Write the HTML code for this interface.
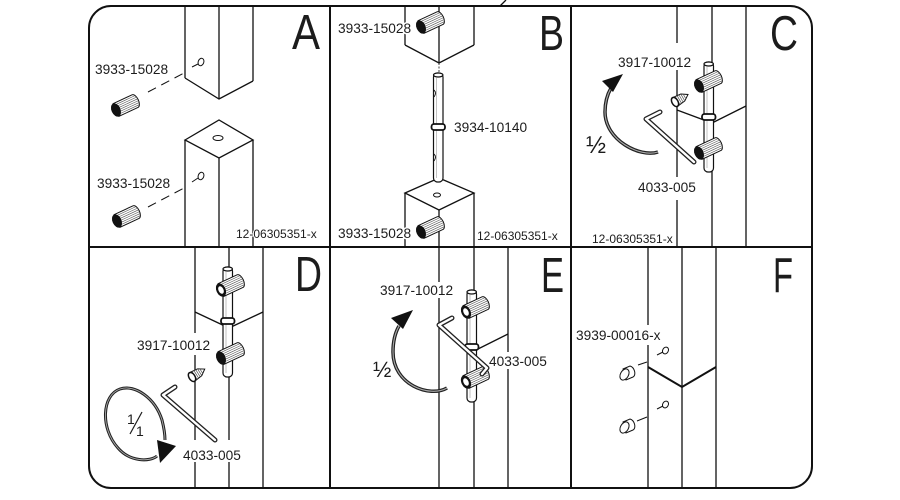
<!DOCTYPE html>
<html><head><meta charset="utf-8"><style>
html,body{margin:0;padding:0;background:#fff;width:900px;height:500px;overflow:hidden}
svg{display:block}
text{font-family:"Liberation Sans",sans-serif;fill:#1c1c1c}
.lbl{font-size:13.7px;stroke:#fff;stroke-width:3px;paint-order:stroke;stroke-linejoin:round}
.code{font-size:12px;stroke:#fff;stroke-width:2px;paint-order:stroke}
.big{font-size:49px}
</style></head><body>
<svg width="900" height="500" viewBox="0 0 900 500" xmlns="http://www.w3.org/2000/svg">
<defs>
 <g id="dw">
  <path d="M0,-7 L21,-7 A3.5,7 0 0 1 21,7 L0,7 Z" fill="#fff" stroke="#111" stroke-width="1"/>
  <path d="M3,-5 H23 M3,-3 H24 M3,-1 H24 M3,1 H24 M3,3 H24 M3,5 H23" stroke="#555" stroke-width="0.6" fill="none"/>
  <ellipse rx="4.5" ry="7" fill="#111"/>
 </g>
 <g id="dwh">
  <path d="M0,-7 L21,-7 A3.5,7 0 0 1 21,7 L0,7 Z" fill="#fff" stroke="#111" stroke-width="1"/>
  <path d="M3,-5 H23 M3,-3 H24 M3,-1 H24 M3,1 H24 M3,3 H24 M3,5 H23" stroke="#555" stroke-width="0.6" fill="none"/>
  <ellipse rx="4.6" ry="7" fill="#111"/>
  <ellipse rx="2.5" ry="4" fill="#fff"/>
 </g>
 <g id="ss">
  <path d="M0,-5 L9,-4 L15,0 L9,4 L0,5 Z" fill="#fff" stroke="#111" stroke-width="1"/>
  <path d="M3,-4.6 V4.6 M5,-4.4 V4.4 M7,-4.2 V4.2 M9,-4 V4 M11,-2.8 V2.8" stroke="#555" stroke-width="0.7" fill="none"/>
  <ellipse rx="3" ry="5" fill="#fff" stroke="#111" stroke-width="1.5"/>
 </g>
</defs>

<!-- frame -->
<rect x="89" y="6" width="723" height="482" rx="22" fill="none" stroke="#111" stroke-width="2"/>
<g stroke="#111" stroke-width="2">
 <line x1="330" y1="6" x2="330" y2="488"/>
 <line x1="571" y1="6" x2="571" y2="488"/>
 <line x1="89" y1="247" x2="812" y2="247"/>
 <line x1="500" y1="6" x2="506" y2="0" stroke-width="1.3"/>
</g>

<!-- ===== Panel A ===== -->
<g stroke="#111" stroke-width="1.3" fill="none">
 <line x1="185" y1="6" x2="185" y2="78"/>
 <line x1="219" y1="6" x2="219" y2="99"/>
 <line x1="253" y1="6" x2="253" y2="81"/>
 <polyline points="185,78 219,99 253,81"/>
 <polygon points="185,140 219,120 253,140 219,158"/>
 <line x1="185" y1="140" x2="185" y2="247"/>
 <line x1="253" y1="140" x2="253" y2="247"/>
 <line x1="219" y1="158" x2="219" y2="247"/>
 <ellipse cx="218" cy="138" rx="5" ry="2.5" stroke-width="1"/>
 <ellipse cx="201" cy="62" rx="2.8" ry="3.8" transform="rotate(20 201 62)" stroke-width="1"/>
 <line x1="192" y1="67" x2="198" y2="64" stroke-width="1"/>
 <line x1="148" y1="92" x2="184" y2="73" stroke-width="1" stroke-dasharray="9 6"/>
 <ellipse cx="201" cy="176" rx="2.8" ry="3.8" transform="rotate(20 201 176)" stroke-width="1"/>
 <line x1="192" y1="182" x2="198" y2="178" stroke-width="1"/>
 <line x1="148" y1="207" x2="184" y2="188" stroke-width="1" stroke-dasharray="9 6"/>
</g>
<use href="#dw" transform="translate(116,110) rotate(-25)"/>
<use href="#dw" transform="translate(117,221) rotate(-25)"/>
<text class="lbl" x="95" y="74">3933-15028</text>
<text class="lbl" x="97" y="188">3933-15028</text>
<text class="code" x="236" y="238">12-06305351-x</text>
<text class="big" x="292" y="49" textLength="28" lengthAdjust="spacingAndGlyphs">A</text>

<!-- ===== Panel B ===== -->
<g stroke="#111" stroke-width="1.3" fill="none">
 <line x1="405" y1="6" x2="405" y2="45"/>
 <line x1="439" y1="6" x2="439" y2="63"/>
 <line x1="474" y1="6" x2="474" y2="45"/>
 <polyline points="405,45 439,63 474,45"/>
 <line x1="439" y1="63" x2="439" y2="73" stroke-width="0.8" stroke-dasharray="2 1.5"/>
 <polygon points="405,193 439,178 474,193 439,210"/>
 <line x1="405" y1="193" x2="405" y2="247"/>
 <line x1="474" y1="193" x2="474" y2="247"/>
 <line x1="439" y1="210" x2="439" y2="247"/>
 <ellipse cx="437" cy="195" rx="3.5" ry="2" stroke-width="1"/>
</g>
<g stroke="#111" stroke-width="1.2">
 <rect x="433.5" y="73" width="9.5" height="109" rx="4" fill="#fff"/>
 <ellipse cx="438.2" cy="75" rx="4.7" ry="2" fill="#fff"/>
 <line x1="436.5" y1="78" x2="436.5" y2="178" stroke="#999" stroke-width="0.6"/>
 <path d="M434,90 q3,3 0,7 M434,154 q3,3 0,7" fill="none" stroke-width="0.9"/>
 <rect x="431.5" y="124" width="13.5" height="6" rx="2.5" fill="#fff" stroke-width="1.8"/>
</g>
<use href="#dw" transform="translate(421,27) rotate(-25)"/>
<use href="#dw" transform="translate(421,232) rotate(-25)"/>
<text class="lbl" x="338" y="33">3933-15028</text>
<text class="lbl" x="454" y="132">3934-10140</text>
<text class="lbl" x="338" y="238">3933-15028</text>
<text class="code" x="477" y="240">12-06305351-x</text>
<text class="big" x="539" y="50" textLength="25" lengthAdjust="spacingAndGlyphs">B</text>

<!-- ===== Panel C ===== -->
<g stroke="#111" stroke-width="1.3" fill="none">
 <line x1="677" y1="6" x2="677" y2="43"/>
 <line x1="677" y1="70" x2="677" y2="177"/>
 <line x1="677" y1="200" x2="677" y2="247"/>
 <line x1="712" y1="6" x2="712" y2="247"/>
 <line x1="746" y1="6" x2="746" y2="247"/>
 <polyline points="677,110 712,123 746,106"/>
</g>
<g stroke="#111" stroke-width="1.2">
 <rect x="704" y="62" width="9.5" height="110" rx="4" fill="#fff"/>
 <ellipse cx="708.7" cy="64" rx="4.7" ry="2" fill="#fff"/>
 <line x1="707" y1="67" x2="707" y2="168" stroke="#999" stroke-width="0.6"/>
 <rect x="702" y="114" width="13.5" height="6" rx="2.5" fill="#fff" stroke-width="1.8"/>
</g>
<use href="#dw" transform="translate(699,86) rotate(-25)"/>
<use href="#dw" transform="translate(699,153) rotate(-25)"/>
<use href="#ss" transform="translate(675,102) rotate(-30)"/>
<path d="M660,112 L646,119 L694,162" fill="none" stroke="#222" stroke-width="5" stroke-linecap="round" stroke-linejoin="round"/>
<path d="M660,112 L646,119 L694,162" fill="none" stroke="#fff" stroke-width="2.4" stroke-linecap="round" stroke-linejoin="round"/>
<path d="M658,152 C640,158 605,140 605,112 C605,102 607,95 611,88" fill="none" stroke="#222" stroke-width="3.5"/>
<path d="M658,152 C640,158 605,140 605,112 C605,102 607,95 611,88" fill="none" stroke="#aaa" stroke-width="1.1"/>
<polygon points="602,81 623,74 613,92" fill="#111"/>
<text x="586" y="153" style="font-size:24px">½</text>
<text class="lbl" x="618" y="67">3917-10012</text>
<text class="lbl" x="638" y="192">4033-005</text>
<text class="code" x="592" y="243">12-06305351-x</text>
<text class="big" x="770" y="50" textLength="28" lengthAdjust="spacingAndGlyphs">C</text>

<!-- ===== Panel D ===== -->
<g stroke="#111" stroke-width="1.3" fill="none">
 <line x1="195" y1="247" x2="195" y2="333"/>
 <line x1="195" y1="355" x2="195" y2="440"/>
 <line x1="195" y1="462" x2="195" y2="488"/>
 <line x1="229" y1="247" x2="229" y2="440"/>
 <line x1="229" y1="462" x2="229" y2="488"/>
 <line x1="263" y1="247" x2="263" y2="488"/>
 <polyline points="195,312 229,328 263,312"/>
</g>
<g stroke="#111" stroke-width="1.2">
 <rect x="223" y="267" width="9.5" height="110" rx="4" fill="#fff"/>
 <ellipse cx="227.7" cy="269" rx="4.7" ry="2" fill="#fff"/>
 <line x1="226" y1="272" x2="226" y2="373" stroke="#999" stroke-width="0.6"/>
 <rect x="221" y="318" width="13.5" height="6" rx="2.5" fill="#fff" stroke-width="1.8"/>
</g>
<use href="#dwh" transform="translate(221,290) rotate(-25)"/>
<use href="#dw" transform="translate(221,358) rotate(-25)"/>
<use href="#ss" transform="translate(192,377) rotate(-32)"/>
<path d="M175,387 L163,395 L215,440" fill="none" stroke="#222" stroke-width="5" stroke-linecap="round" stroke-linejoin="round"/>
<path d="M175,387 L163,395 L215,440" fill="none" stroke="#fff" stroke-width="2.4" stroke-linecap="round" stroke-linejoin="round"/>
<path d="M157,456 C150,462 130,462 118,448 C100,428 102,395 120,389 C135,384 155,398 162,420 C164,428 165,433 165,440" fill="none" stroke="#222" stroke-width="3"/>
<path d="M157,456 C150,462 130,462 118,448 C100,428 102,395 120,389 C135,384 155,398 162,420 C164,428 165,433 165,440" fill="none" stroke="#aaa" stroke-width="0.9"/>
<polygon points="157,440 176,446 160,463" fill="#111"/>
<text x="127" y="424" style="font-size:14px">1</text>
<line x1="130" y1="434" x2="142" y2="412" stroke="#1c1c1c" stroke-width="1.2"/>
<text x="136" y="436" style="font-size:14px">1</text>
<text class="lbl" x="137" y="350">3917-10012</text>
<text class="lbl" x="183" y="460">4033-005</text>
<text class="big" x="295" y="291" textLength="27" lengthAdjust="spacingAndGlyphs">D</text>

<!-- ===== Panel E ===== -->
<g stroke="#111" stroke-width="1.3" fill="none">
 <line x1="439" y1="247" x2="439" y2="282"/>
 <line x1="439" y1="298" x2="439" y2="488"/>
 <line x1="474" y1="247" x2="474" y2="488"/>
 <line x1="508" y1="247" x2="508" y2="352"/>
 <line x1="508" y1="369" x2="508" y2="488"/>
 <line x1="476" y1="350" x2="508" y2="334"/>
</g>
<g stroke="#111" stroke-width="1.2">
 <rect x="467" y="290" width="9.5" height="112" rx="4" fill="#fff"/>
 <ellipse cx="471.7" cy="292" rx="4.7" ry="2" fill="#fff"/>
 <line x1="470" y1="295" x2="470" y2="398" stroke="#999" stroke-width="0.6"/>
 <rect x="465" y="344" width="13.5" height="6" rx="2.5" fill="#fff" stroke-width="1.8"/>
</g>
<use href="#dwh" transform="translate(466,312) rotate(-25)"/>
<use href="#dwh" transform="translate(466,382) rotate(-25)"/>
<path d="M452,318 L439,325 L487,368 L482,374" fill="none" stroke="#222" stroke-width="5" stroke-linecap="round" stroke-linejoin="round"/>
<path d="M452,318 L439,325 L487,368 L482,374" fill="none" stroke="#fff" stroke-width="2.4" stroke-linecap="round" stroke-linejoin="round"/>
<path d="M447,388 C430,398 393,385 393,352 C393,342 395,333 399,326" fill="none" stroke="#222" stroke-width="3.5"/>
<path d="M447,388 C430,398 393,385 393,352 C393,342 395,333 399,326" fill="none" stroke="#aaa" stroke-width="1.1"/>
<polygon points="391,318 413,310 403,329" fill="#111"/>
<text x="373" y="377" style="font-size:22px">½</text>
<text class="lbl" x="380" y="295">3917-10012</text>
<text class="lbl" x="489" y="366">4033-005</text>
<text class="big" x="541" y="292" textLength="23" lengthAdjust="spacingAndGlyphs">E</text>

<!-- ===== Panel F ===== -->
<g stroke="#111" stroke-width="1.3" fill="none">
 <line x1="648" y1="247" x2="648" y2="325"/>
 <line x1="648" y1="345" x2="648" y2="488"/>
 <line x1="682" y1="247" x2="682" y2="488"/>
 <line x1="716" y1="247" x2="716" y2="488"/>
 <polyline points="648,367 682,387 716,367" stroke-width="2"/>
 <line x1="638" y1="365" x2="647" y2="362" stroke-width="1"/>
 <line x1="657" y1="355" x2="663" y2="352" stroke-width="1"/>
 <ellipse cx="665.5" cy="350.5" rx="2.8" ry="3.6" transform="rotate(30 665.5 350.5)" stroke-width="1"/>
 <line x1="637" y1="421" x2="647" y2="417" stroke-width="1"/>
 <line x1="657" y1="409" x2="663" y2="406" stroke-width="1"/>
 <ellipse cx="665.5" cy="404.5" rx="2.8" ry="3.6" transform="rotate(30 665.5 404.5)" stroke-width="1"/>
</g>
<g fill="#fff" stroke="#111" stroke-width="1">
 <path d="M623,369 L630,366 A4,6 -25 0 1 633,377 L626,380 Z"/>
 <ellipse cx="624.5" cy="374.5" rx="4" ry="6" transform="rotate(30 624.5 374.5)"/>
 <path d="M623,422 L630,419 A4,6 -25 0 1 633,430 L626,433 Z"/>
 <ellipse cx="624.5" cy="427.5" rx="4" ry="6" transform="rotate(30 624.5 427.5)"/>
</g>
<text class="lbl" x="576" y="340">3939-00016-x</text>
<text class="big" x="773" y="292" textLength="20" lengthAdjust="spacingAndGlyphs">F</text>
</svg>
</body></html>
